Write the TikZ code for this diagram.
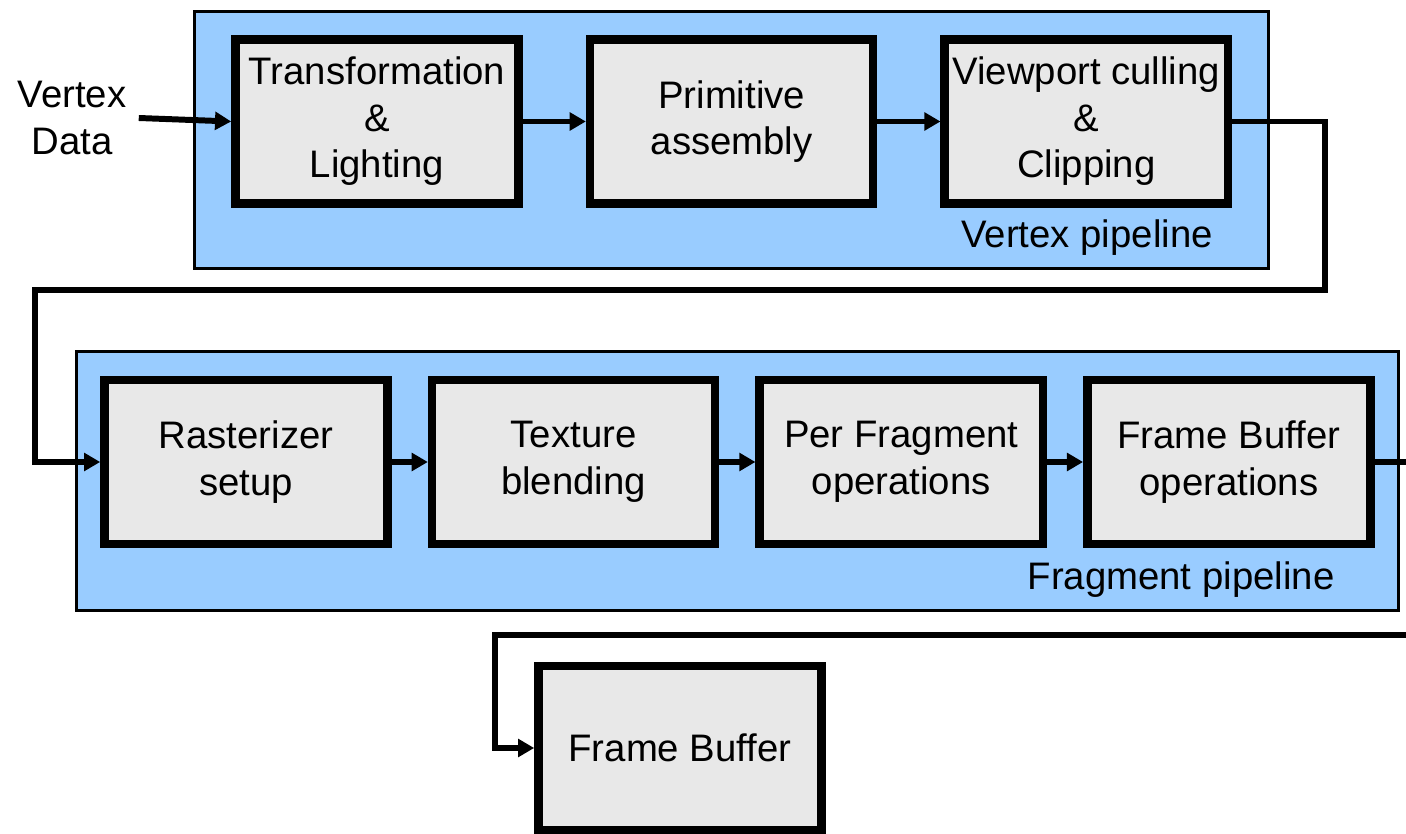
\documentclass[tikz,border=0pt]{standalone}
\usepackage{fontspec}
\setmainfont{Liberation Sans}
\usepackage{tikz}
\usetikzlibrary{arrows.meta,positioning}

\definecolor{pipeblue}{RGB}{153,204,255}
\definecolor{stagegray}{RGB}{232,232,232}

\begin{document}
\begin{tikzpicture}[x=0.01cm,y=-0.01cm,>={Triangle[length=4.6pt,width=5pt]},
  flow/.style={->,line width=1.7pt},
  pipe/.style={draw,fill=pipeblue,line width=0.85pt},
  stage/.style={rectangle,draw,fill=stagegray,line width=2.4pt,minimum width=2.83cm,
    minimum height=1.64cm,align=center,inner sep=0pt,font=\fontsize{10.9pt}{13.2pt}\selectfont},
  label node/.style={font=\fontsize{10.9pt}{13.2pt}\selectfont,align=center}]

  \useasboundingbox (0,0) rectangle (1406,834);

  % pipelines
  \draw[pipe] (194.5,11.5) rectangle (1268.5,268.5);
  \draw[pipe] (76.5,351.5) rectangle (1398.5,610.5);
  \node[label node] (vp) at (1087,238) {Vertex pipeline};
  \node[label node] (fp) at (1181,580) {Fragment pipeline};

  % vertex stages
  \node[stage] (tl) at (377,121.5) {Transformation\\\&\\Lighting};
  \node[stage] (pa) [right=0.63cm of tl] {Primitive\\assembly};
  \node[stage] (vc) [right=0.63cm of pa] {Viewport culling\\\&\\Clipping};

  % fragment stages
  \node[stage] (rs) at (246,462) {Rasterizer\\setup};
  \node[stage] (tb) [right=0.36cm of rs] {Texture\\blending};
  \node[stage] (pf) [right=0.36cm of tb] {Per Fragment\\operations};
  \node[stage] (fo) [right=0.36cm of pf] {Frame Buffer\\operations};

  \node[stage] (fb) at (680,748) {Frame Buffer};
  \node[label node] (vd) at (72,118) {Vertex\\Data};

  \draw[flow] (vd.east) -- (tl.west);
  \draw[flow] (tl) -- (pa);
  \draw[flow] (pa) -- (vc);
  \draw[flow] (vc.east) -| (1325,290) -| (35,462) -- (rs.west);
  \draw[flow] (rs) -- (tb);
  \draw[flow] (tb) -- (pf);
  \draw[flow] (pf) -- (fo);
  \draw[flow] (fo.east) -| (1412,635) -| (495,748) -- (fb.west);

\end{tikzpicture}
\end{document}
